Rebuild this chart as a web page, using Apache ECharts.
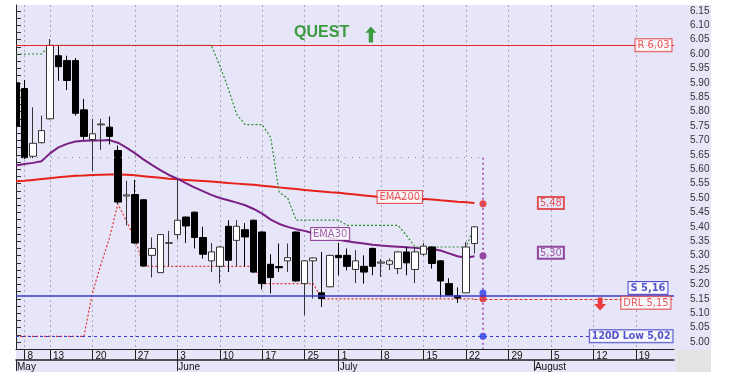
<!DOCTYPE html>
<html><head><meta charset="utf-8">
<script src="https://cdn.jsdelivr.net/npm/echarts@6/dist/echarts.min.js"></script>
<style>
html,body{margin:0;padding:0;background:#fff;}
#bg{position:absolute;left:16px;top:5px;width:695px;height:367px;background:#e6e6f8;}
#corner{position:absolute;left:676px;top:350px;width:35px;height:22px;background:#e4e4e4;}
#chart{position:absolute;left:0;top:0;width:739px;height:390px;}
#mask{position:absolute;left:0;top:0;width:16px;height:349px;background:#fff;z-index:5;}
</style></head>
<body>
<div id="bg"></div><div id="corner"></div>
<div id="chart"></div>
<div id="mask"></div>
<script>
// trading days (May 7 .. Aug 26, 2019)
const dates = ['05-07','05-08','05-09','05-10','05-13','05-14','05-15','05-16','05-17','05-20','05-21','05-22','05-23','05-24','05-27','05-28','05-29','05-30','05-31',
 '06-03','06-04','06-05','06-06','06-07','06-10','06-11','06-12','06-13','06-14','06-17','06-18','06-19','06-20','06-21','06-25','06-26','06-27','06-28',
 '07-01','07-02','07-03','07-04','07-05','07-08','07-09','07-10','07-11','07-12','07-15','07-16','07-17','07-18','07-19','07-22','07-23','07-24','07-25','07-26','07-29','07-30','07-31',
 '08-01','08-02','08-05','08-06','08-07','08-08','08-09','08-12','08-13','08-14','08-15','08-16','08-19','08-20','08-21','08-22','08-23','08-26'];
const dayTickDates = ['05-08','05-13','05-20','05-27','06-03','06-10','06-17','06-25','07-01','07-08','07-15','07-22','07-29','08-05','08-12','08-19'];
const dayTickLabels = ['8','13','20','27','3','10','17','25','1','8','15','22','29','5','12','19'];
const monthStartDates = ['05-07','06-03','07-01','08-01'];
const monthLabels = ['May','June','July','August'];
const priceTicks = ['5.00','5.05','5.10','5.15','5.20','5.25','5.30','5.35','5.40','5.45','5.50','5.55','5.60','5.65','5.70','5.75','5.80','5.85','5.90','5.95','6.00','6.05','6.10','6.15'];

const open  = [5.90,5.88,5.645,5.692,5.775,5.994,5.977,5.977,5.806,5.703,5.754,5.746,5.665,5.507,5.512,5.494,5.301,5.241,5.343,
 5.373,5.434,5.451,5.363,5.282,5.263,5.402,5.353,5.39,5.423,5.382,5.27,5.262,5.282,5.382,5.203,5.282,5.171,5.192,
 5.301,5.301,5.252,5.263,5.325,5.274,5.27,5.255,5.313,5.252,5.305,5.33,5.282,5.203,5.161,5.171,5.342];
const close = [5.75,5.64,5.69,5.734,6.03,5.956,5.908,5.794,5.714,5.723,5.757,5.714,5.486,5.511,5.344,5.264,5.325,5.373,5.345,
 5.423,5.403,5.363,5.305,5.313,5.33,5.284,5.402,5.365,5.243,5.203,5.224,5.258,5.293,5.212,5.282,5.292,5.151,5.301,
 5.293,5.263,5.282,5.243,5.263,5.278,5.282,5.313,5.275,5.313,5.333,5.273,5.212,5.163,5.153,5.33,5.40];
const low   = [5.74,5.635,5.638,5.69,5.772,5.907,5.875,5.786,5.702,5.593,5.667,5.686,5.48,5.405,5.34,5.262,5.224,5.24,5.263,
 5.356,5.344,5.325,5.29,5.243,5.203,5.243,5.263,5.263,5.24,5.183,5.169,5.243,5.243,5.21,5.094,5.151,5.122,5.19,
 5.232,5.249,5.205,5.203,5.232,5.226,5.25,5.236,5.232,5.205,5.30,5.255,5.155,5.16,5.136,5.17,5.307];
const high  = [5.91,5.91,5.815,5.786,6.052,6.029,5.994,5.986,5.844,5.775,5.775,5.783,5.682,5.56,5.563,5.496,5.363,5.375,5.386,
 5.563,5.436,5.453,5.40,5.344,5.332,5.423,5.423,5.413,5.425,5.384,5.305,5.342,5.342,5.384,5.284,5.294,5.313,5.303,
 5.344,5.325,5.319,5.301,5.328,5.288,5.29,5.315,5.33,5.33,5.344,5.332,5.285,5.222,5.19,5.347,5.402];

const ema200 = [5.558,5.560,5.563,5.566,5.569,5.572,5.575,5.577,5.578,5.580,
 5.581,5.582,5.582,5.581,5.579,5.576,5.573,5.570,5.567,5.565,
 5.563,5.561,5.559,5.557,5.555,5.552,5.550,5.548,5.546,5.543,
 5.540,5.537,5.534,5.531,5.528,5.525,5.523,5.520,5.518,5.515,
 5.512,5.509,5.506,5.503,5.501,5.500,5.499,5.498,5.497,5.495,
 5.492,5.490,5.487,5.485,5.483];
const ema30 = [5.613,5.618,5.622,5.628,5.655,5.676,5.688,5.696,5.699,5.700,
 5.700,5.701,5.692,5.675,5.656,5.634,5.615,5.597,5.580,5.567,
 5.552,5.537,5.524,5.511,5.500,5.492,5.484,5.475,5.462,5.446,
 5.425,5.410,5.400,5.392,5.386,5.378,5.370,5.362,5.355,5.350,
 5.346,5.342,5.338,5.335,5.333,5.331,5.329,5.327,5.325,5.322,
 5.318,5.308,5.298,5.293,5.298];
const drl = [5.02,5.02,5.02,5.02,5.02,5.02,5.02,5.02,5.02,5.17,
 5.27,5.36,5.48,5.42,5.36,5.265,5.263,5.263,5.263,5.263,
 5.263,5.263,5.263,5.263,5.263,5.263,5.263,5.263,5.263,5.203,
 5.203,5.203,5.203,5.203,5.203,5.203,5.15,5.15,5.15,5.15,
 5.15,5.15,5.15,5.15,5.15,5.15,5.15,5.15,5.15,5.15,
 5.15,5.15,5.15,5.15,5.15];
const upperStop = [6.00,6.00,6.00,6.00,6.03,6.03,6.03,6.03,6.03,6.03,
 6.03,6.03,6.03,6.03,6.03,6.03,6.03,6.03,6.03,6.03,
 6.03,6.03,6.03,6.03,5.96,5.88,5.79,5.755,5.755,5.755,
 5.71,5.52,5.50,5.423,5.423,5.423,5.423,5.423,5.423,5.405,
 5.405,5.405,5.405,5.405,5.405,5.405,5.37,5.33,5.33,5.33,
 5.33,5.33,5.33,5.33,5.40];

const resistance = 6.03, support = 5.16, drlLevel = 5.15, low120 = 5.02, lastPrice = 5.40, rangeHigh = 5.64;
const endDate = '07-24';
const endMarkers = [5.48, 5.30, 5.17, 5.15, 5.02];
const endMarkerColors = ['#e8201a', '#7a1f86', '#1a3cf0', '#e8201a', '#1a3cf0'];

// ---- build ----
const idx = d => dates.indexOf(d);
const xMax = 77.5, yMin = 4.976, yMax = 6.170;
const dayTickIdx = dayTickDates.map(idx);
const monthIdx = monthStartDates.map(idx);
const endIdx = idx(endDate);
const lastIdx = close.length - 1;
const ser = arr => arr.map((v, i) => [i, v]);
const candleData = open.map((o, i) => [i, o, close[i], low[i], high[i]]);
const priceVals = priceTicks.map(Number);
const minorVals = [];
priceVals.forEach((v, i) => { minorVals.push(v); if (i < priceVals.length - 1) minorVals.push((v + priceVals[i + 1]) / 2); });

const NARROW = "'Liberation Sans Narrow', 'Arial Narrow', 'DejaVu Sans Condensed', Arial";
const RED = '#e8201a', PURPLE = '#7a1f86', BLUE = '#2b2bc0', GREEN = '#2e8b2e';
const boxLabel = (text, color, extra) => Object.assign({
  show: true, formatter: text, color: color, borderColor: color, borderWidth: 1,
  backgroundColor: '#ffffff', padding: [1, 2, 0, 2], fontSize: 11, fontFamily: NARROW, position: 'inside'
}, extra || {});

const tags = [
  { value: [xMax, resistance], label: boxLabel('R 6,03', '#e03030', { position: 'left', distance: 2 }) },
  { value: [xMax, support], label: boxLabel('S 5,16', BLUE, { position: 'left', distance: 6, offset: [0, -8], fontWeight: 'bold' }) },
  { value: [xMax, drlLevel], label: boxLabel('DRL 5,15', '#e03030', { position: 'left', distance: 3, offset: [0, 4] }) },
  { value: [xMax, low120], label: boxLabel('120D Low 5,02', BLUE, { position: 'left', distance: 1, fontWeight: 'bold', fontSize: 10.5 }) },
  { value: [63, ema200[lastIdx]], label: boxLabel('5,48', '#e03030', { backgroundColor: 'transparent' }) },
  { value: [63, 5.31], label: boxLabel('5,30', PURPLE, { backgroundColor: 'transparent', color: '#8a3a96' }) },
  { value: [45.2, 5.504], label: boxLabel('EMA200', '#e03030') },
  { value: [37.0, 5.375], label: boxLabel('EMA30', PURPLE, { color: '#8a3a96' }) },
  { value: [36.0, 6.073], label: { show: true, position: 'inside', formatter: 'QUEST', color: '#118811', fontSize: 16, fontWeight: 'bold', fontFamily: 'Arial' } }
];

const option = {
  animation: false,
  backgroundColor: 'transparent',
  grid: { left: 16, right: 65, top: 5, bottom: 41, show: false },
  xAxis: [{
    type: 'value', min: 0, max: xMax, position: 'bottom',
    axisLine: { show: true, onZero: false, lineStyle: { color: '#222', width: 1 } },
    axisTick: { show: true, customValues: dayTickIdx, length: 11, lineStyle: { color: '#222' } },
    axisLabel: { customValues: dayTickIdx, formatter: v => dayTickLabels[dayTickIdx.indexOf(v)], align: 'left', margin: 2,
      padding: [0, 0, 0, 3], fontSize: 10, color: '#111', fontFamily: 'Arial' },
    splitLine: { show: true, lineStyle: { type: [2, 3], color: '#a8a8bc', width: 1 } }
  }, {
    type: 'value', min: 0, max: xMax, position: 'bottom', offset: 11,
    axisLine: { show: true, onZero: false, lineStyle: { color: '#222', width: 1.5 } },
    axisTick: { show: true, customValues: monthIdx, length: 11, lineStyle: { color: '#222' } },
    axisLabel: { customValues: monthIdx, formatter: v => monthLabels[monthIdx.indexOf(v)], align: 'left', margin: 2,
      padding: [0, 0, 0, 1], fontSize: 10, color: '#111', fontFamily: 'Arial' },
    splitLine: { show: false }
  }],
  yAxis: {
    type: 'value', position: 'right', min: yMin, max: yMax, scale: true,
    axisLine: { show: true, lineStyle: { color: '#222' } },
    axisTick: { show: true, customValues: minorVals, length: 5, lineStyle: { color: '#333' } },
    axisLabel: { customValues: priceVals, formatter: v => v.toFixed(2), margin: 16, fontSize: 10, color: '#333', fontFamily: 'Arial' },
    splitLine: { show: false }
  },
  series: [
    {
      type: 'line', name: 'levels', data: [], z: 1, silent: true,
      markLine: {
        silent: true, symbol: ['none', 'none'], animation: false, label: { show: false },
        data: [
          { yAxis: resistance, lineStyle: { color: '#e02828', width: 1, type: 'solid' } },
          { yAxis: support, lineStyle: { color: '#3a3ac8', width: 1.5, type: 'solid' } },
          { yAxis: low120, lineStyle: { color: '#3a3ac8', width: 1, type: [3, 3] } },
          [{ coord: [lastIdx, drlLevel], lineStyle: { color: '#e03030', width: 1, type: [3, 2] } }, { coord: [xMax, drlLevel] }],
          [{ coord: [0, rangeHigh], lineStyle: { color: '#8a8a9a', width: 1, type: [1, 6] } }, { coord: [endIdx, rangeHigh] }],
          [{ coord: [endIdx, rangeHigh], lineStyle: { color: '#a040a8', width: 1.5, type: [2, 3] } }, { coord: [endIdx, yMin] }],
          { yAxis: lastPrice, lineStyle: { opacity: 0, width: 0 },
            label: { show: true, position: 'end', distance: 3, formatter: '5.40000', backgroundColor: '#000', color: '#1ee01e',
              padding: [2, 1, 1, 1], fontSize: 10, fontFamily: 'Arial' } }
        ]
      }
    },
    { type: 'line', name: 'EMA200', data: ser(ema200), symbol: 'none', z: 2, lineStyle: { color: RED, width: 2 } },
    { type: 'line', name: 'EMA30', data: ser(ema30), symbol: 'none', z: 2, lineStyle: { color: PURPLE, width: 2 } },
    { type: 'line', name: 'DRL', data: ser(drl), symbol: 'none', z: 2, lineStyle: { color: '#e03030', width: 1.2, type: [2, 2] } },
    { type: 'line', name: 'Stop', data: ser(upperStop), symbol: 'none', z: 2, lineStyle: { color: GREEN, width: 1.2, type: [2, 2] } },
    {
      type: 'candlestick', name: 'QUEST', data: candleData, encode: { x: 0, y: [1, 2, 3, 4] }, barWidth: 7, z: 3, clip: true,
      itemStyle: { color: '#ffffff', color0: '#000000', borderColor: '#333333', borderColor0: '#000000', borderWidth: 1 }
    },
    {
      type: 'scatter', name: 'ends', z: 4, symbolSize: 7, silent: true,
      data: endMarkers.map((v, i) => ({ value: [endIdx, v], itemStyle: { color: endMarkerColors[i] } }))
    },
    {
      type: 'scatter', name: 'arrows', z: 4, silent: true,
      data: [
        { value: [41.8, 6.068], symbol: 'path://M5,0 L10,6 L7,6 L7,15 L3,15 L3,6 L0,6 Z', symbolSize: [11, 16], itemStyle: { color: '#118811' } },
        { value: [68.8, 5.132], symbol: 'path://M3,0 L7,0 L7,6 L10,6 L5,12 L0,6 L3,6 Z', symbolSize: [12, 13], itemStyle: { color: '#ee1111' } }
      ]
    },
    { type: 'scatter', name: 'tags', z: 6, silent: true, symbolSize: 1, itemStyle: { color: 'rgba(0,0,0,0)' }, clip: false, data: tags }
  ]
};
const chart = echarts.init(document.getElementById('chart'), null, { renderer: 'canvas' });
chart.setOption(option);
</script>
</body></html>
